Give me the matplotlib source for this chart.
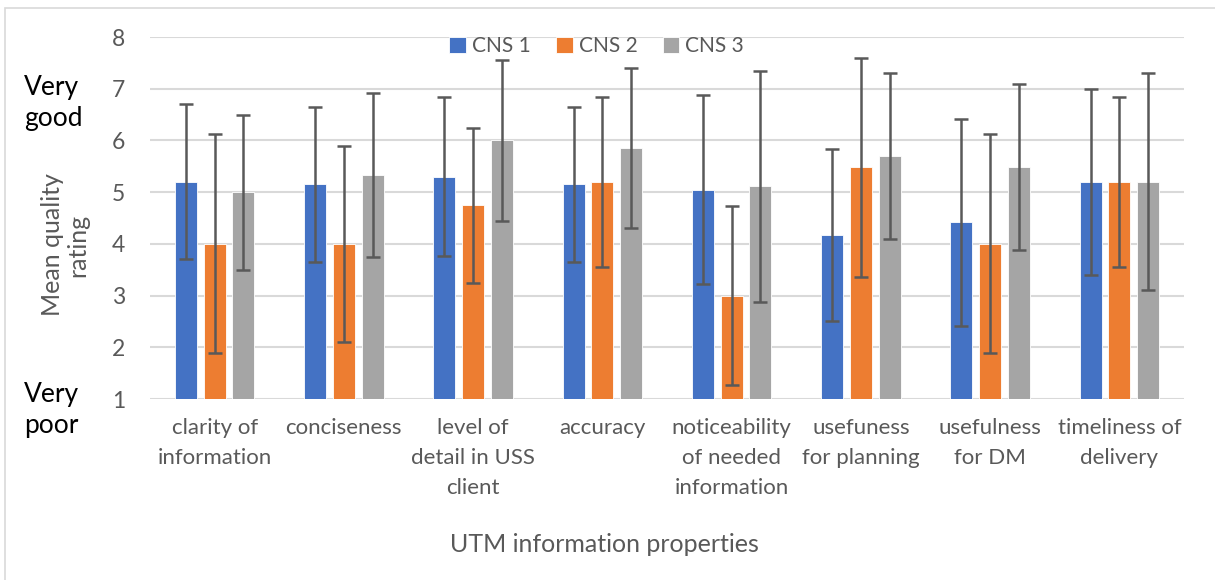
import matplotlib.pyplot as plt
import numpy as np
from matplotlib.patches import Rectangle

# data
categories = ["clarity of\ninformation", "conciseness", "level of\ndetail in USS\nclient",
              "accuracy", "noticeability\nof needed\ninformation", "usefuness\nfor planning",
              "usefulness\nfor DM", "timeliness of\ndelivery"]
series = ["CNS 1", "CNS 2", "CNS 3"]
cns1 = [5.2, 5.15, 5.3, 5.15, 5.05, 4.17, 4.42, 5.2]
cns2 = [4.0, 4.0, 4.75, 5.2, 3.0, 5.48, 4.0, 5.2]
cns3 = [5.0, 5.33, 6.0, 5.86, 5.11, 5.7, 5.49, 5.2]
err1 = [1.5, 1.5, 1.54, 1.5, 1.82, 1.67, 2.0, 1.8]
err2 = [2.12, 1.9, 1.5, 1.64, 1.73, 2.12, 2.12, 1.64]
err3 = [1.5, 1.58, 1.55, 1.55, 2.23, 1.6, 1.6, 2.1]
colors = ["#4472C4", "#ED7D31", "#A5A5A5"]

plt.rcParams['font.family'] = ['Lato', 'DejaVu Sans']

fig = plt.figure(figsize=(12.15, 5.8), dpi=100)
# chart area border
fig.patches.append(Rectangle((5 / 1215, -0.1), 1.2, 1 - 8 / 580 + 0.1,
                             transform=fig.transFigure, fill=False,
                             edgecolor="#d9d9d9", linewidth=1.2))

ax = fig.add_axes([150 / 1215, 1 - 399 / 580, 1034 / 1215, 362 / 580])

x = np.arange(len(categories))
width = 0.17
step = 0.222
for i, (vals, errs) in enumerate(zip([cns1, cns2, cns3], [err1, err2, err3])):
    ax.bar(x + (i - 1) * step, np.array(vals) - 1, width, bottom=1,
           color=colors[i], edgecolor="white", linewidth=0.6, label=series[i], zorder=2)
    ax.errorbar(x + (i - 1) * step, vals, yerr=errs, fmt="none", ecolor="#595959",
                elinewidth=1.8, capsize=5, capthick=1.8, zorder=3)

ax.set_xlim(-0.5, len(categories) - 0.5)
ax.set_ylim(1, 8)
ax.set_yticks(range(1, 9))
ax.set_xticks(x)
ax.set_xticklabels(categories, linespacing=1.62)
ax.tick_params(axis="both", length=0, labelcolor="#595959")
ax.tick_params(axis="x", pad=14, labelsize=16)
ax.tick_params(axis="y", pad=18, labelsize=16.5)
ax.grid(axis="y", color="#d9d9d9", linewidth=1.5, zorder=0)
ax.set_axisbelow(True)
for s in ax.spines.values():
    s.set_visible(False)

ax.legend(loc="center", bbox_to_anchor=(0.432, 0.975), ncol=3, frameon=False,
          fontsize=15, labelcolor="#595959", handlelength=0.8, handleheight=0.8,
          handletextpad=0.3, columnspacing=1.2, borderpad=0)

fig.text(604 / 1215, 1 - 545 / 580, "UTM information properties", ha="center", va="center",
         fontsize=18, color="#595959")
fig.text(65 / 1215, 1 - 245 / 580, "Mean quality\nrating", ha="center", va="center",
         rotation=90, fontsize=18, color="#595959", linespacing=1.15)
fig.text(24 / 1215, 1 - 103 / 580, "Very\ngood", ha="left", va="center",
         fontsize=19, color="black", linespacing=1.3)
fig.text(24 / 1215, 1 - 410 / 580, "Very\npoor", ha="left", va="center",
         fontsize=19, color="black", linespacing=1.3)

fig.savefig("out.png", dpi=100)
